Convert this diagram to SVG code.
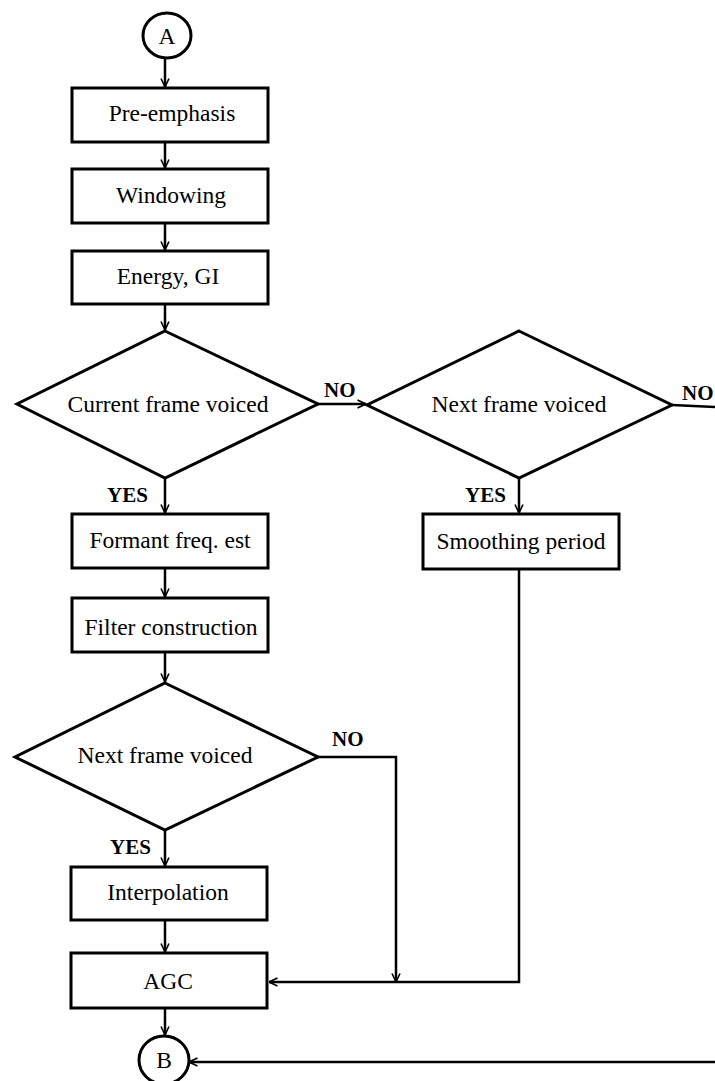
<svg xmlns="http://www.w3.org/2000/svg" width="715" height="1081" viewBox="0 0 715 1081">
<defs>
<marker id="arr" viewBox="0 0 10 10" refX="9.5" refY="5" markerWidth="10" markerHeight="10" markerUnits="userSpaceOnUse" orient="auto">
<path d="M1,1 L9.5,5 L1,9" fill="none" stroke="#000" stroke-width="1.6"/>
</marker>
<style>
.box{fill:#fff;stroke:#000;stroke-width:3}
.t{font-family:"Liberation Serif","Times New Roman",serif;font-size:23.5px;fill:#000;text-anchor:middle}
.lbl{font-family:"Liberation Serif","Times New Roman",serif;font-size:21px;font-weight:bold;fill:#000}
.c{fill:none;stroke:#000;stroke-width:2.5}
.ca{fill:none;stroke:#000;stroke-width:2.5;marker-end:url(#arr)}
</style>
</defs>
<rect width="715" height="1081" fill="#fff"/>
<g id="connectors">
<line class="ca" x1="165" y1="58" x2="165" y2="87"/>
<line class="ca" x1="165" y1="143" x2="165" y2="168"/>
<line class="ca" x1="165" y1="224" x2="165" y2="250"/>
<line class="ca" x1="165" y1="305" x2="165" y2="330"/>
<line class="ca" x1="318" y1="404" x2="366" y2="404"/>
<line class="ca" x1="165" y1="478" x2="165" y2="513"/>
<line class="ca" x1="519" y1="478" x2="519" y2="513"/>
<line class="c" x1="672" y1="405" x2="715" y2="407"/>
<line class="ca" x1="165" y1="569" x2="165" y2="597"/>
<line class="ca" x1="165" y1="653" x2="165" y2="682"/>
<line class="ca" x1="165" y1="830" x2="165" y2="866"/>
<polyline class="ca" points="318,757 396,757 396,982"/>
<line class="ca" x1="165" y1="921" x2="165" y2="952"/>
<polyline class="ca" points="519,570 519,982 269,982"/>
<line class="ca" x1="165" y1="1009" x2="165" y2="1035"/>
<line class="ca" x1="715" y1="1062" x2="189" y2="1062"/>
</g>
<g id="nodeA">
<ellipse class="box" cx="167" cy="35.5" rx="24" ry="22.5"/>
<text class="t" x="167" y="43.5">A</text>
</g>
<g id="preemphasis">
<rect class="box" x="72" y="88" width="196" height="54"/>
<text class="t" x="172" y="121">Pre-emphasis</text>
</g>
<g id="windowing">
<rect class="box" x="72" y="169" width="196" height="54"/>
<text class="t" x="171" y="203">Windowing</text>
</g>
<g id="energy">
<rect class="box" x="72" y="251" width="196" height="53"/>
<text class="t" x="168" y="284">Energy, GI</text>
</g>
<g id="decision1">
<polygon class="box" points="165,331 318,404 165,478 17,404"/>
<text class="t" x="168" y="412">Current frame voiced</text>
<text class="lbl" x="324" y="397">NO</text>
<text class="lbl" x="107" y="502">YES</text>
</g>
<g id="decision2">
<polygon class="box" points="519,331 672,405 519,478 367,405"/>
<text class="t" x="519" y="412">Next frame voiced</text>
<text class="lbl" x="682" y="400">NO</text>
<text class="lbl" x="465" y="502">YES</text>
</g>
<g id="formant">
<rect class="box" x="72" y="514" width="196" height="54"/>
<text class="t" x="170" y="548">Formant freq. est</text>
</g>
<g id="smoothing">
<rect class="box" x="423" y="514" width="196" height="55"/>
<text class="t" x="521" y="549">Smoothing period</text>
</g>
<g id="filter">
<rect class="box" x="72" y="598" width="196" height="54"/>
<text class="t" x="171" y="635">Filter construction</text>
</g>
<g id="decision3">
<polygon class="box" points="165,683 318,757 165,830 15,757"/>
<text class="t" x="165" y="763">Next frame voiced</text>
<text class="lbl" x="332" y="746">NO</text>
<text class="lbl" x="110" y="854">YES</text>
</g>
<g id="interpolation">
<rect class="box" x="71" y="867" width="196" height="53"/>
<text class="t" x="168" y="900">Interpolation</text>
</g>
<g id="agc">
<rect class="box" x="71" y="953" width="196" height="55"/>
<text class="t" x="168" y="989">AGC</text>
</g>
<g id="nodeB">
<ellipse class="box" cx="164" cy="1060" rx="25" ry="24"/>
<text class="t" x="164" y="1068">B</text>
</g>
</svg>
